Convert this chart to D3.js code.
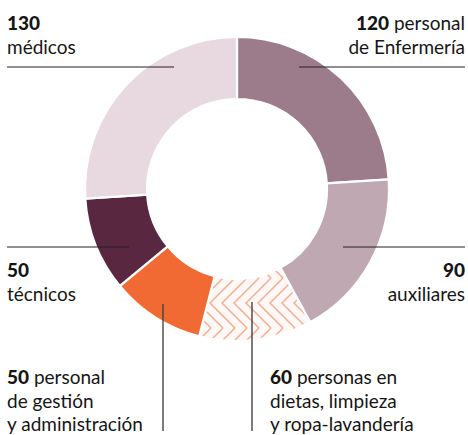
<!DOCTYPE html>
<html>
<head>
<meta charset="utf-8">
<script src="https://cdn.jsdelivr.net/npm/d3@7"></script>
<style>
	body { margin: 0; background: #fff; }
	text { font-family: Lato, "Open Sans", sans-serif; fill: #161616; }
</style>
</head>
<body>
<div id="chart-area"></div>
<script>
// Data
// ****
const categories = ["Enfermería", "auxiliares", "dietas", "gestión", "técnicos", "médicos"]
const values = [120, 90, 60, 50, 50, 130]
const fills = ["#9c7c8b", "#c0a8b2", "url(#chevron)", "#f26a33", "#5a2740", "#e8d8df"]

// label: bold number + rest of first line, then extra lines
const numbers = ["120", "90", "60", "50", "50", "130"]
const firstLines = [" personal", "", " personas en", " personal", "", ""]
const extraLines = [
	["de Enfermería"],
	["auxiliares"],
	["dietas, limpieza", "y ropa-lavandería"],
	["de gestión", "y administración"],
	["técnicos"],
	["médicos"]
]

// Config
// ******
const width = 468, height = 435
const cx = 237, cy = 189
const outerR = 152, innerR = 90
const lineH = 23.5

const svg = d3.select("#chart-area")
	.append("svg")
		.attr("width", width)
		.attr("height", height)

// chevron pattern for the hatched slice
const tileW = 12, tileH = 50
const defs = svg.append("defs")
const pat = defs.append("pattern")
	.attr("id", "chevron")
	.attr("patternUnits", "userSpaceOnUse")
	.attr("x", cx)
	.attr("y", cy)
	.attr("width", tileW)
	.attr("height", tileH)
pat.append("rect").attr("width", tileW).attr("height", tileH).attr("fill", "#fdf7f6")
d3.range(-3, 2).forEach(k => {
	pat.append("path")
		.attr("d", `M${k * tileW + tileH / 2},0 L${k * tileW},${tileH / 2} L${k * tileW + tileH / 2},${tileH}`)
		.attr("fill", "none")
		.attr("stroke", "#f5ab8e")
		.attr("stroke-width", 1.4)
})

const pie = d3.pie().sort(null).value(d => d)
const arc = d3.arc().innerRadius(innerR).outerRadius(outerR)

const g = svg.append("g").attr("transform", `translate(${cx}, ${cy})`)

g.selectAll("path")
	.data(pie(values))
	.enter().append("path")
		.attr("d", arc)
		.attr("fill", (d, i) => fills[i])
		.attr("stroke", "#fff")
		.attr("stroke-width", 2.2)

// Annotations (hand placed, as in the original)
// *********************************************
const leaders = [
	{x1: 299, y1: 67, x2: 465, y2: 67},
	{x1: 343, y1: 247, x2: 465, y2: 247},
	{x1: 252, y1: 302, x2: 252, y2: 431},
	{x1: 163, y1: 304, x2: 163, y2: 431},
	{x1: 7, y1: 247, x2: 129, y2: 247},
	{x1: 7, y1: 67, x2: 174, y2: 67}
]
const labelPos = [
	{x: 465, y: 30, anchor: "end"},
	{x: 465, y: 277, anchor: "end"},
	{x: 270, y: 384, anchor: "start"},
	{x: 7, y: 384, anchor: "start"},
	{x: 7, y: 277, anchor: "start"},
	{x: 7, y: 30, anchor: "start"}
]

svg.selectAll("line.leader")
	.data(leaders)
	.enter().append("line")
		.attr("class", "leader")
		.attr("x1", d => d.x1).attr("y1", d => d.y1)
		.attr("x2", d => d.x2).attr("y2", d => d.y2)
		.attr("stroke", (d, i) => (i === 2 || i === 3) ? "#444" : "#222")
		.attr("stroke-width", (d, i) => (i === 2 || i === 3) ? 1.4 : 1.1)

categories.forEach((c, i) => {
	const p = labelPos[i]
	const t = svg.append("text")
		.attr("x", p.x)
		.attr("y", p.y)
		.attr("text-anchor", p.anchor)
		.attr("font-size", "19px")
	t.append("tspan").attr("font-weight", 900).text(numbers[i])
	if (firstLines[i]) t.append("tspan").text(firstLines[i])
	extraLines[i].forEach((line, j) => {
		svg.append("text")
			.attr("x", p.x)
			.attr("y", p.y + lineH * (j + 1))
			.attr("text-anchor", p.anchor)
			.attr("font-size", "19px")
			.text(line)
	})
})
</script>
</body>
</html>
